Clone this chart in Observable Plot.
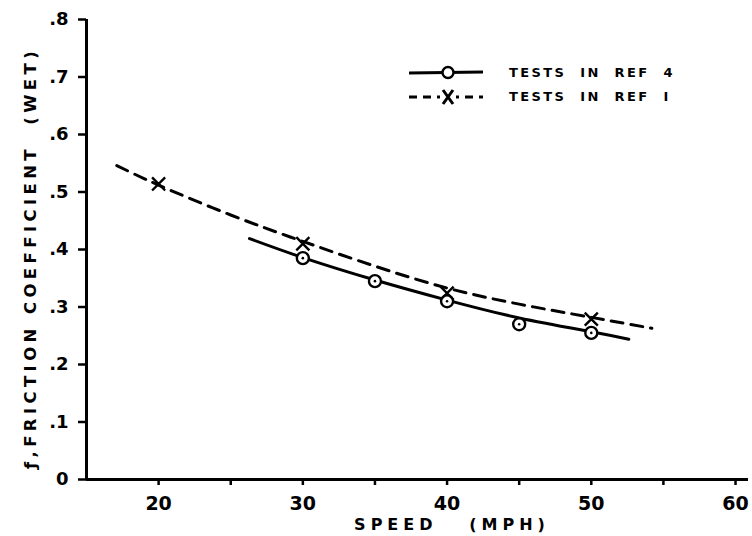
<!DOCTYPE html>
<html>
<head>
<meta charset="utf-8">
<script src="https://cdn.jsdelivr.net/npm/d3@7"></script>
<script src="https://cdn.jsdelivr.net/npm/@observablehq/plot@0.6"></script>
<style>
  html, body { margin: 0; padding: 0; background: #fff; }
  #wrap { position: relative; width: 752px; height: 536px; }
  #legend { position: absolute; left: 405px; top: 60px; font-family: "DejaVu Sans", sans-serif; font-weight: bold; font-size: 13px; letter-spacing: 2.4px; color: #000; }
  #legend .row { display: flex; align-items: center; height: 24px; }
  #legend svg { margin-right: 26px; }
</style>
</head>
<body>
<div id="wrap"></div>
<script>
// Tested points
const ref4Speed = [30, 35, 40, 45, 50];
const ref4Coef  = [0.385, 0.345, 0.31, 0.27, 0.255];
const ref1Speed = [20, 30, 40, 50];
const ref1Coef  = [0.514, 0.41, 0.324, 0.279];

// Faired curves
const ref4CurveSpeed = [26.3, 30, 35, 40, 45, 50, 52.6];
const ref4CurveCoef  = [0.419, 0.386, 0.347, 0.312, 0.281, 0.257, 0.244];
const ref1CurveSpeed = [17.1, 20, 25, 30, 35, 40, 45, 50, 54.2];
const ref1CurveCoef  = [0.546, 0.512, 0.46, 0.414, 0.371, 0.333, 0.305, 0.282, 0.263];

const xTicks = [20, 30, 40, 50, 60];
const xMinorTicks = [25, 35, 45, 55];
const yTicks = [0, 0.1, 0.2, 0.3, 0.4, 0.5, 0.6, 0.7, 0.8];
const yTickLabels = ["0", ".1", ".2", ".3", ".4", ".5", ".6", ".7", ".8"];
const xDomain = [15, 60.9];
const yDomain = [0, 0.8];

const xTitle = "SPEED   (MPH)";
const yTitle = "ƒ,FRICTION COEFFICIENT  (WET)";
const legendLabels = ["TESTS  IN  REF  4", "TESTS  IN  REF  I"];

const zip = (xs, ys) => xs.map((x, i) => ({x, y: ys[i]}));
const ref4Pts = zip(ref4Speed, ref4Coef);
const ref1Pts = zip(ref1Speed, ref1Coef);
const ref4Curve = zip(ref4CurveSpeed, ref4CurveCoef);
const ref1Curve = zip(ref1CurveSpeed, ref1CurveCoef);

const font = "DejaVu Sans, sans-serif";

const chart = Plot.plot({
  width: 752,
  height: 536,
  marginLeft: 86,
  marginRight: 4,
  marginTop: 19,
  marginBottom: 57,
  style: {fontFamily: font, background: "#fff", color: "#000"},
  x: {type: "linear", domain: xDomain},
  y: {type: "linear", domain: yDomain},
  marks: [
    // frame axes
    Plot.ruleX([xDomain[0]], {y1: yDomain[0], y2: yDomain[1], stroke: "#000", strokeWidth: 3}),
    Plot.ruleY([yDomain[0]], {x1: xDomain[0], x2: xDomain[1], stroke: "#000", strokeWidth: 3}),
    Plot.axisX({ticks: xMinorTicks, tickSize: 6, strokeWidth: 2.5, tickFormat: () => "", label: null}),
    Plot.axisX({ticks: xTicks, tickSize: 6, tickPadding: 11, strokeWidth: 2.5, fontSize: 19, fontWeight: "bold", label: null}),
    Plot.axisY({ticks: yTicks, tickSize: 8, tickPadding: 10, strokeWidth: 2.5, fontSize: 18, fontWeight: "bold",
      tickFormat: d => yTickLabels[yTicks.findIndex(t => Math.abs(t - d) < 1e-9)],
      label: null}),
    // curves
    Plot.line(ref1Curve, {x: "x", y: "y", curve: "natural", stroke: "#000", strokeWidth: 3, strokeDasharray: "12,8"}),
    Plot.line(ref4Curve, {x: "x", y: "y", curve: "natural", stroke: "#000", strokeWidth: 3}),
    // points
    Plot.dot(ref4Pts, {x: "x", y: "y", r: 6, fill: "#fff", stroke: "#000", strokeWidth: 2.4}),
    Plot.dot(ref4Pts, {x: "x", y: "y", r: 1.3, fill: "#000"}),
    Plot.dot(ref1Pts, {x: "x", y: "y", symbol: "times", r: 6, stroke: "#000", strokeWidth: 2.4})
  ]
});

const svg = d3.select(chart);
// x axis title
svg.append("text")
  .attr("x", 452).attr("y", 525)
  .attr("text-anchor", "middle")
  .attr("dominant-baseline", "middle")
  .attr("font-family", font)
  .attr("font-weight", "bold")
  .attr("font-size", 16)
  .attr("letter-spacing", "5px")
  .text(xTitle);

// y axis title as rotated text
svg.append("text")
  .attr("transform", "translate(31,258) rotate(-90)")
  .attr("text-anchor", "middle")
  .attr("dominant-baseline", "middle")
  .attr("font-family", font)
  .attr("font-weight", "bold")
  .attr("font-size", 16.5)
  .attr("letter-spacing", "4.4px")
  .text(yTitle);

const wrap = document.getElementById("wrap");
wrap.appendChild(chart);

// legend
const legend = document.createElement("div");
legend.id = "legend";
legendLabels.forEach((label, i) => {
  const row = document.createElement("div");
  row.className = "row";
  const s = d3.create("svg").attr("width", 78).attr("height", 20);
  if (i === 0) {
    s.append("line").attr("x1", 4).attr("x2", 78).attr("y1", 11).attr("y2", 10)
      .attr("stroke", "#000").attr("stroke-width", 2.8);
    s.append("circle").attr("cx", 43).attr("cy", 10.5).attr("r", 5.5)
      .attr("fill", "#fff").attr("stroke", "#000").attr("stroke-width", 2.4);
  } else {
    s.append("line").attr("x1", 4).attr("x2", 78).attr("y1", 11).attr("y2", 11)
      .attr("stroke", "#000").attr("stroke-width", 2.8).attr("stroke-dasharray", "8,6");
    s.append("rect").attr("x", 35).attr("y", 3).attr("width", 16).attr("height", 16).attr("fill", "#fff");
    s.append("path").attr("d", "M38,4 L48,18 M48,4 L38,18").attr("stroke", "#000").attr("stroke-width", 3);
  }
  row.appendChild(s.node());
  const t = document.createElement("span");
  t.textContent = label;
  t.style.whiteSpace = "pre";
  row.appendChild(t);
  legend.appendChild(row);
});
wrap.appendChild(legend);
</script>
</body>
</html>
